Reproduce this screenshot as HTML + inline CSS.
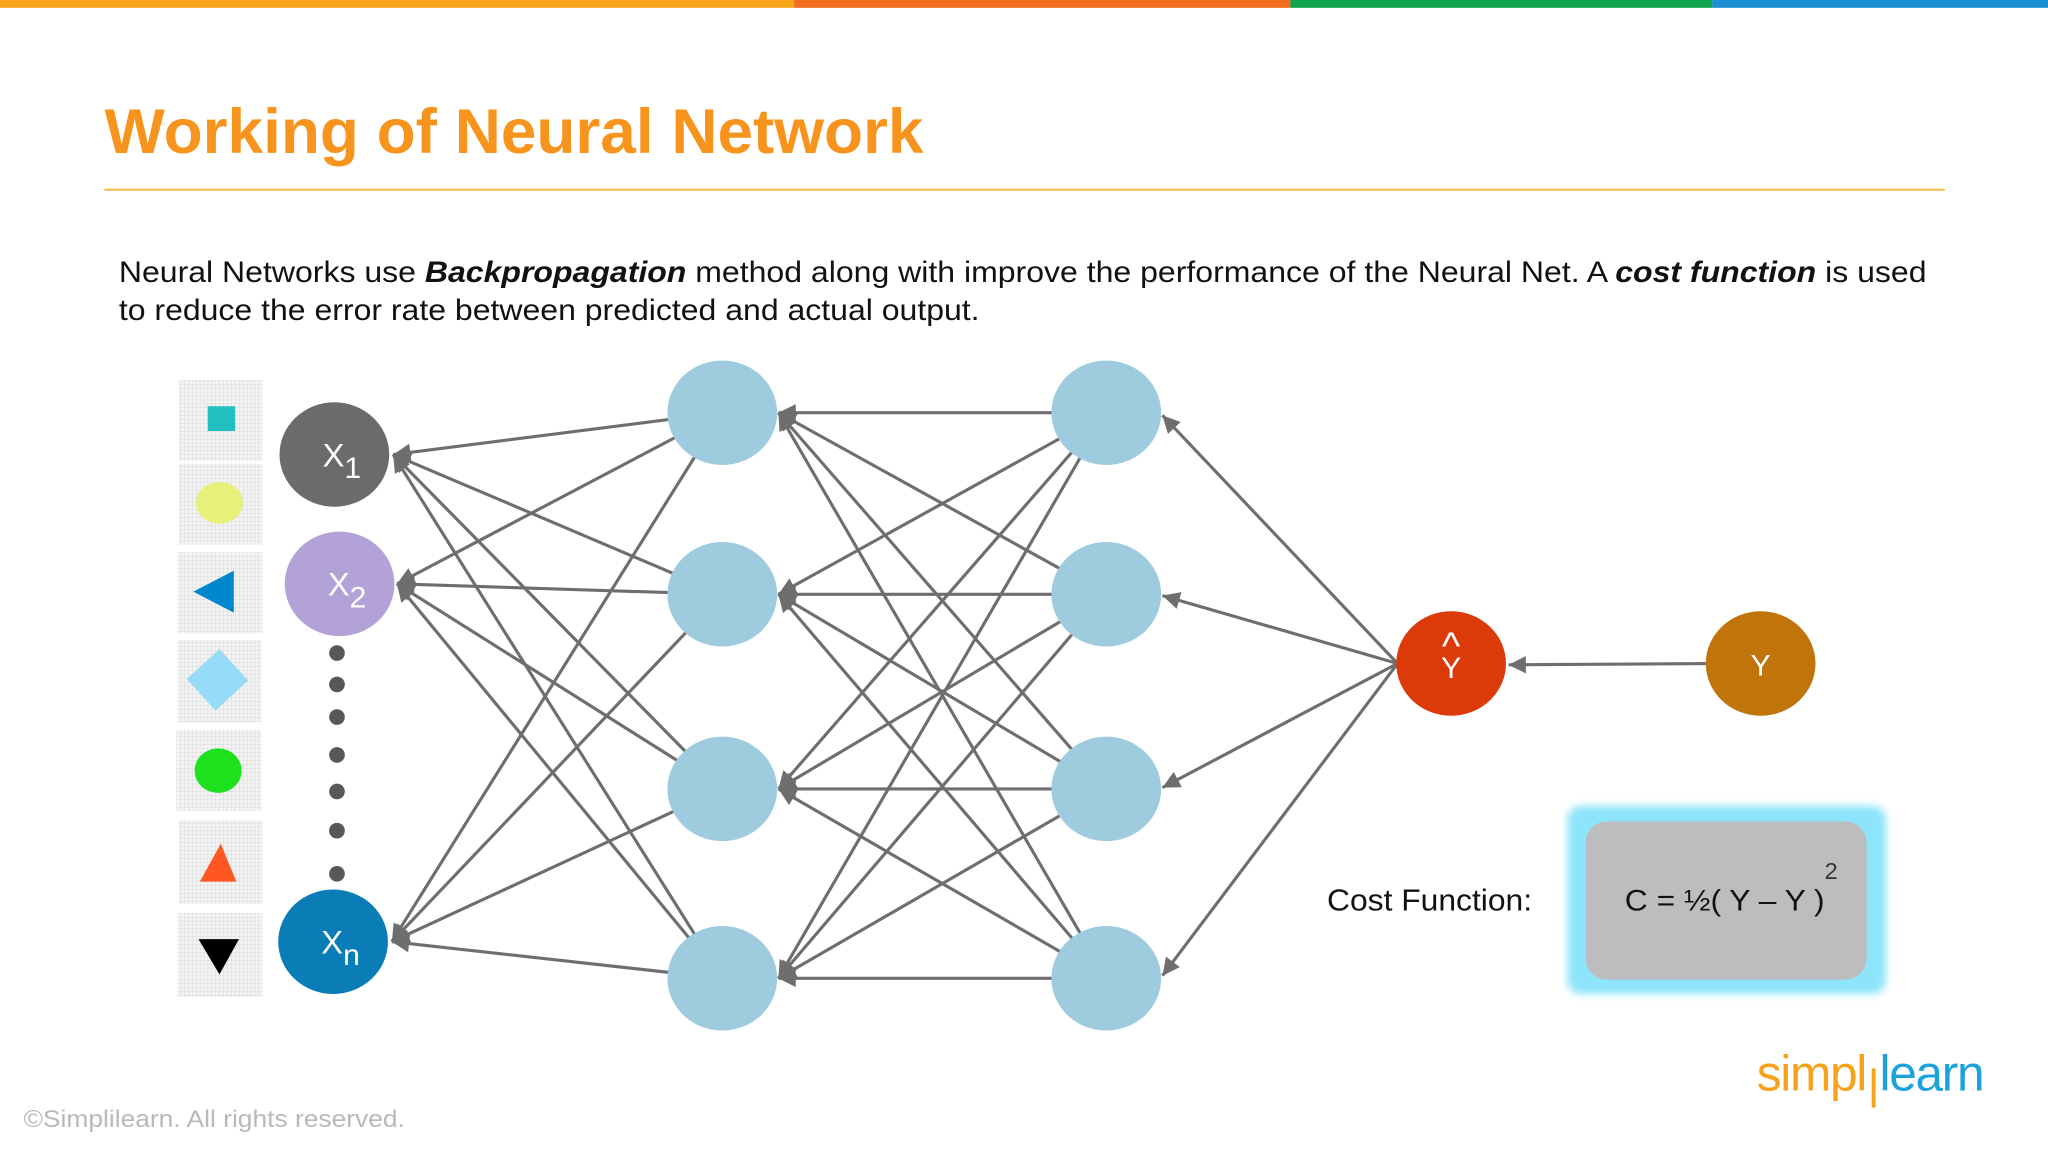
<!DOCTYPE html>
<html><head><meta charset="utf-8"><style>
html,body{margin:0;padding:0;background:#fff;}
svg{display:block}
</style></head><body>
<svg width="2048" height="1152" viewBox="0 0 1568 882" xmlns="http://www.w3.org/2000/svg" font-family="Liberation Sans, Arial, sans-serif">
<defs>
<marker id="a" viewBox="0 0 10 10" refX="10" refY="5" markerWidth="7" markerHeight="7" orient="auto" markerUnits="userSpaceOnUse" style="overflow:visible">
<path d="M0,0 L10,5 L0,10 Z" fill="#6e6e6e" transform="scale(1.9) translate(-4.7,-2.4)"/>
</marker>
<pattern id="g" width="3" height="3" patternUnits="userSpaceOnUse"><rect width="3" height="3" fill="#f4f4f4"/><path d="M0,0H3M0,0V3" stroke="#d0d0d0" stroke-width="0.6"/></pattern>
<filter id="glow" x="-20%" y="-20%" width="140%" height="140%"><feGaussianBlur stdDeviation="3"/></filter>
</defs>
<rect x="0" y="0" width="608" height="6" fill="#f9a51a"/>
<rect x="608" y="0" width="380" height="6" fill="#f26f21"/>
<rect x="988" y="0" width="323" height="6" fill="#10a54a"/>
<rect x="1311" y="0" width="257" height="6" fill="#1b8fd2"/>
<text x="80" y="117" font-size="48" font-weight="bold" fill="#f7941d" textLength="627" lengthAdjust="spacingAndGlyphs">Working of Neural Network</text>
<rect x="80" y="144.5" width="1409" height="1.5" fill="#f5b841"/>
<text x="91" y="216" font-size="23" fill="#111" textLength="1384" lengthAdjust="spacingAndGlyphs">Neural Networks use <tspan font-weight="bold" font-style="italic">Backpropagation</tspan> method along with improve the performance of the Neural Net. A <tspan font-weight="bold" font-style="italic">cost function</tspan> is used</text>
<text x="91" y="245" font-size="23" fill="#111" textLength="659" lengthAdjust="spacingAndGlyphs">to reduce the error rate between predicted and actual output.</text>

<g fill="url(#g)">
<rect x="137" y="291" width="64" height="62"/><rect x="137" y="355" width="64" height="62"/>
<rect x="136" y="423" width="65" height="62"/><rect x="136" y="490" width="64" height="63"/>
<rect x="135" y="559" width="65" height="62"/><rect x="137" y="628" width="64" height="64"/>
<rect x="136" y="699" width="65" height="64"/>
</g>
<rect x="159" y="311" width="21" height="19" fill="#22c0c0"/>
<ellipse cx="168" cy="385" rx="18" ry="16" fill="#e6f07a"/>
<polygon points="148,453 179,437 179,469" fill="#0088cc"/>
<polygon points="168,497 190,521 165,544 143,520" fill="#96dcf8"/>
<ellipse cx="167" cy="590" rx="18" ry="17" fill="#1ee21e"/>
<polygon points="169,646 181,675 153,675" fill="#ff5722"/>
<polygon points="152,719 183,719 168,746" fill="#000"/>

<g stroke="#6e6e6e" stroke-width="2.4" marker-end="url(#a)" fill="none">
<line x1="553" y1="316" x2="301" y2="348"/><line x1="553" y1="316" x2="304" y2="447"/><line x1="553" y1="316" x2="300" y2="721"/>
<line x1="553" y1="455" x2="301" y2="348"/><line x1="553" y1="455" x2="304" y2="447"/><line x1="553" y1="455" x2="300" y2="721"/>
<line x1="553" y1="604" x2="301" y2="348"/><line x1="553" y1="604" x2="304" y2="447"/><line x1="553" y1="604" x2="300" y2="721"/>
<line x1="553" y1="749" x2="301" y2="348"/><line x1="553" y1="749" x2="304" y2="447"/><line x1="553" y1="749" x2="300" y2="721"/>
<line x1="847" y1="316" x2="596" y2="316"/><line x1="847" y1="316" x2="596" y2="455"/><line x1="847" y1="316" x2="596" y2="604"/><line x1="847" y1="316" x2="596" y2="749"/>
<line x1="847" y1="455" x2="596" y2="316"/><line x1="847" y1="455" x2="596" y2="455"/><line x1="847" y1="455" x2="596" y2="604"/><line x1="847" y1="455" x2="596" y2="749"/>
<line x1="847" y1="604" x2="596" y2="316"/><line x1="847" y1="604" x2="596" y2="455"/><line x1="847" y1="604" x2="596" y2="604"/><line x1="847" y1="604" x2="596" y2="749"/>
<line x1="847" y1="749" x2="596" y2="316"/><line x1="847" y1="749" x2="596" y2="455"/><line x1="847" y1="749" x2="596" y2="604"/><line x1="847" y1="749" x2="596" y2="749"/>
<line x1="1070" y1="508" x2="890" y2="318"/><line x1="1070" y1="508" x2="890" y2="456"/>
<line x1="1070" y1="508" x2="890" y2="603"/><line x1="1070" y1="508" x2="890" y2="747"/>
<line x1="1310" y1="508" x2="1155" y2="509"/>
</g>

<ellipse cx="256" cy="348" rx="42" ry="40" fill="#6b6b6d"/>
<ellipse cx="260" cy="447" rx="42" ry="40" fill="#b3a2d8"/>
<ellipse cx="255" cy="721" rx="42" ry="40" fill="#0a7cb6"/>
<g fill="#58585a"><circle cx="258" cy="500" r="6"/><circle cx="258" cy="524" r="6"/><circle cx="258" cy="549" r="6"/><circle cx="258" cy="578" r="6"/><circle cx="258" cy="606" r="6"/><circle cx="258" cy="636" r="6"/><circle cx="258" cy="669" r="6"/></g>
<g fill="#fff" font-size="25"><text x="247" y="357">X<tspan font-size="23" dy="9">1</tspan></text>
<text x="251" y="456">X<tspan font-size="23" dy="9">2</tspan></text>
<text x="246" y="730">X<tspan font-size="23" dy="9">n</tspan></text></g>
<g fill="#9ecbde">
<ellipse cx="553" cy="316" rx="42" ry="40"/><ellipse cx="553" cy="455" rx="42" ry="40"/><ellipse cx="553" cy="604" rx="42" ry="40"/><ellipse cx="553" cy="749" rx="42" ry="40"/>
<ellipse cx="847" cy="316" rx="42" ry="40"/><ellipse cx="847" cy="455" rx="42" ry="40"/><ellipse cx="847" cy="604" rx="42" ry="40"/><ellipse cx="847" cy="749" rx="42" ry="40"/>
</g>
<ellipse cx="1111" cy="508" rx="42" ry="40" fill="#dd3a0a"/>
<ellipse cx="1348" cy="508" rx="42" ry="40" fill="#c0740a"/>
<text x="1111" y="505" font-size="30" fill="#fff" text-anchor="middle">^</text>
<text x="1111" y="519" font-size="23" fill="#fff" text-anchor="middle">Y</text>
<text x="1348" y="517" font-size="23" fill="#fff" text-anchor="middle">Y</text>

<text x="1016" y="697" font-size="23.5" fill="#111" textLength="157" lengthAdjust="spacingAndGlyphs">Cost Function:</text>
<rect x="1200" y="617" width="244" height="144" rx="10" fill="#8ee4fb" filter="url(#glow)"/>
<rect x="1214" y="629" width="215" height="121" rx="16" fill="#bdbdbf"/>
<text x="1244" y="697" font-size="22.5" fill="#111" textLength="153" lengthAdjust="spacingAndGlyphs">C = ½( Y – Y )</text>
<text x="1397" y="673" font-size="18" fill="#333">2</text>

<text x="1345" y="835" font-size="38" fill="#f7a21b" letter-spacing="-1">simpl</text>
<rect x="1433" y="818" width="3" height="30" fill="#f7a21b"/>
<text x="1439" y="835" font-size="38" fill="#1ea2dc" letter-spacing="-1">learn</text>
<text x="18" y="863" font-size="18.5" fill="#b9b9b9" textLength="292" lengthAdjust="spacingAndGlyphs">©Simplilearn. All rights reserved.</text>
</svg>
</body></html>
